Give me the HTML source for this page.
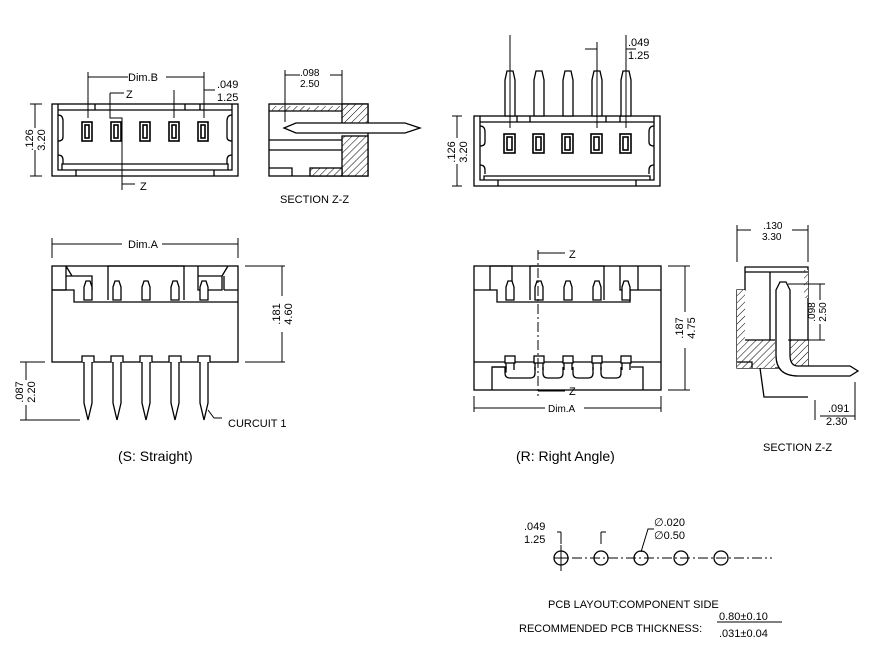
<!DOCTYPE html>
<html><head><meta charset="utf-8"><style>
html,body{margin:0;padding:0;background:#fff}
svg{display:block}
text{font-family:"Liberation Sans",Arial,sans-serif;fill:#000}
</style></head><body>
<svg width="872" height="658" viewBox="0 0 872 658" xmlns="http://www.w3.org/2000/svg">
<defs>
<pattern id="h" width="5" height="5" patternUnits="userSpaceOnUse" patternTransform="rotate(45)">
<rect width="5" height="5" fill="#fff"/><line x1="0" y1="0" x2="0" y2="5" stroke="#000" stroke-width="1"/></pattern>
</defs>
<g fill="none" stroke="#000" stroke-width="1.3">
<!-- TOP LEFT VIEW -->
<rect x="52" y="104" width="186" height="72"/>
<path d="M58 104V170H232V104M58 110H232M62 170V164H228V170M76 176V170M214 176V170M95 104V110M185 104V110M200 104V110"/>
<path d="M58 115q5 0 5 6v16q0 4 -5 4M232 115q-5 0 -5 6v16q0 4 5 4M58 155q5 0 5 5v4M232 155q-5 0 -5 5v4"/>
<g stroke-width="1.6">
<rect x="82" y="122" width="10" height="19"/><rect x="85" y="125" width="4" height="13"/>
<rect x="111" y="122" width="10" height="19"/><rect x="114" y="125" width="4" height="13"/>
<rect x="140" y="122" width="10" height="19"/><rect x="143" y="125" width="4" height="13"/>
<rect x="169" y="122" width="10" height="19"/><rect x="172" y="125" width="4" height="13"/>
<rect x="198" y="122" width="10" height="19"/><rect x="201" y="125" width="4" height="13"/>
</g>
<path stroke-width="1" d="M88 72V118M204 72V118M88 77H128M166 77H204M174 90V118M204 90H215M110 93V118H122V190M110 93H124M122 184H135"/>
<path stroke-width="1" d="M30 104H42M30 176H42M35 104V128M35 150V176"/>
<!-- SECTION top -->
<rect x="269" y="104" width="99" height="72" fill="none"/>
<rect x="272" y="106" width="38" height="5" fill="url(#h)" stroke="none"/>
<rect x="314" y="106" width="30" height="5" fill="url(#h)" stroke="none"/>
<rect x="342" y="104" width="26" height="25" fill="url(#h)"/>
<rect x="342" y="136" width="26" height="40" fill="url(#h)"/>
<rect x="310" y="168" width="32" height="8" fill="url(#h)"/>
<path d="M269 111H342M269 140H342M269 150H342M269 168H292V176"/>
<path fill="#fff" d="M284 128L296 123H405L420 128L405 133H296Z"/>
<path stroke-width="1" d="M285 70V122M342 70V104M285 75H300M330 75H342"/>
<!-- TOP RIGHT VIEW -->
<rect x="474" y="116" width="186" height="70"/>
<path d="M480 116V180H654V116M480 122H654M484 180V176H650V180M498 186V180M636 186V180M517 116V122M530 116V122M606 116V122M620 116V122"/>
<path d="M480 126q5 0 5 6v10q0 4 -5 4M654 126q-5 0 -5 6v10q0 4 5 4M480 165q5 0 5 5v4M654 165q-5 0 -5 5v4"/>
<g stroke-width="1.6">
<rect x="504" y="134" width="11" height="19"/><rect x="507" y="137" width="5" height="13"/>
<rect x="533" y="134" width="11" height="19"/><rect x="536" y="137" width="5" height="13"/>
<rect x="562" y="134" width="11" height="19"/><rect x="565" y="137" width="5" height="13"/>
<rect x="591" y="134" width="11" height="19"/><rect x="594" y="137" width="5" height="13"/>
<rect x="620" y="134" width="11" height="19"/><rect x="623" y="137" width="5" height="13"/>
</g>
<g fill="#fff">
<path d="M505 116V80L507 71H513L515 80V116Z"/><path d="M534 116V80L536 71H542L544 80V116Z"/>
<path d="M563 116V80L565 71H571L573 80V116Z"/><path d="M592 116V80L594 71H600L602 80V116Z"/>
<path d="M621 116V80L623 71H629L631 80V116Z"/>
</g>
<path stroke-width="1" d="M510 35V128M597 42V128M626 35V128M585 49H597M626 49H636"/>
<path stroke-width="1" d="M452 116H462M452 186H462M457 116V138M457 164V186"/>
<!-- STRAIGHT VIEW -->
<rect x="52" y="266" width="186" height="96"/>
<path d="M52 290H74V302H238M66 266V276H92V290M108 266V300M108 266H184V300M198 266V290H222V276M198 266V276H222M72 276L66 266M222 276L228 266"/>
<path d="M66 276V290M224 276V290M52 290H66M224 290H238"/>
<g fill="#fff">
<path d="M84 300V287L86 281H90L92 287V300Z"/><path d="M113 300V287L115 281H119L121 287V300Z"/>
<path d="M142 300V287L144 281H148L150 287V300Z"/><path d="M171 300V287L173 281H177L179 287V300Z"/>
<path d="M200 300V287L202 281H206L208 287V300Z"/>
<path d="M82 362V356H94V362M84 362V403L88 420L92 403V362"/>
<path d="M111 362V356H123V362M113 362V403L117 420L121 403V362"/>
<path d="M140 362V356H152V362M142 362V403L146 420L150 403V362"/>
<path d="M169 362V356H181V362M171 362V403L175 420L179 403V362"/>
<path d="M198 362V356H210V362M200 362V403L204 420L208 403V362"/>
</g>
<path stroke-width="1" d="M52 238V258M238 238V258M52 244H122M162 244H238M245 266H285M245 362H285M282 266V296M282 332V362M20 362H45M20 420H80M26 362V380M26 405V420M208 410L214 418H222"/>
<!-- RIGHT ANGLE VIEW -->
<rect x="474" y="266" width="187" height="124"/>
<path d="M490 266V290H497V302H630V290H638V266M490 266H512V290M530 266V300M530 266H604V300M620 266V290H638M474 290H490M638 290H661M474 362H661"/>
<g fill="#fff">
<path d="M506 300V287L508 281H512L514 287V300Z"/><path d="M535 300V287L537 281H541L543 287V300Z"/>
<path d="M564 300V287L566 281H570L572 287V300Z"/><path d="M593 300V287L595 281H599L601 287V300Z"/>
<path d="M622 300V287L624 281H628L630 287V300Z"/>
</g>
<path d="M492 390V367H506V372H505"/>
<path d="M492 367H505V373Q505 378 510 378H530Q535 378 535 373V367M543 367V373Q543 378 548 378H558Q563 378 563 373V367M573 367V373Q573 378 578 378H588Q593 378 593 373V367M601 367V373Q601 378 606 378H616Q621 378 621 373V367M631 367H643V390"/>
<path d="M505 378Q505 378 505 378"/>
<g fill="#fff">
<rect x="505" y="356" width="10" height="7"/><rect x="534" y="356" width="10" height="7"/><rect x="563" y="356" width="10" height="7"/><rect x="592" y="356" width="10" height="7"/><rect x="621" y="356" width="10" height="7"/>
</g>
<path d="M506 363V370M514 363V370M535 363V370M543 363V370M564 363V370M572 363V370M593 363V370M601 363V370M622 363V370M630 363V370"/>
<path stroke-width="1" stroke-dasharray="10,3,2,3" d="M538 250V396"/>
<path stroke-width="1" d="M538 253H565M538 391H565M474 396V412M661 396V412M474 408H545M584 408H661M668 266H690M668 390H690M685 266V312M685 348V390"/>
<!-- SECTION right -->
<path d="M745 267H808V368H737V290H745Z"/>
<rect x="737" y="290" width="8" height="78" fill="url(#h)" stroke="none"/>
<path fill="url(#h)" stroke="none" d="M745 340H775V368H745Z"/>
<path fill="url(#h)" stroke="none" d="M790 340H808V368H792Q786 368 786 360V345Z"/>
<rect x="804" y="270" width="4" height="28" fill="url(#h)" stroke="none"/>
<path d="M745 272H770V340M745 340H775M770 272H808M790 340H808M737 362H752V368"/>
<path d="M760 368L764 397H808"/>
<path fill="#fff" d="M776 340V290L780 282H786L790 290V355Q790 366 798 366H850L858 371L850 376H798Q776 376 776 355Z"/>
<path stroke-width="1" d="M737 225V262M808 225V262M737 230H751M792 230H808M788 284H825M788 340H825M820 284V300M820 324V340M855 382V420M815 400V420M820 416H855"/>
<!-- PCB -->
<path stroke-width="1" stroke-dasharray="10,3,2,3" d="M554 558H772"/>
<circle cx="561" cy="558" r="7"/><circle cx="601" cy="558" r="7"/><circle cx="641" cy="558" r="7"/><circle cx="681" cy="558" r="7"/><circle cx="721" cy="558" r="7"/>
<path stroke-width="1" d="M561 545V571M554 558H568M561 532V544M557 532H561M601 532V544M601 532H606M641 552L648 529H654M717 622H782"/>
</g>
<g font-size="11">
<text x="128" y="81">Dim.B</text>
<text x="217" y="88">.049</text><text x="217" y="101">1.25</text>
<text x="126" y="98">Z</text><text x="140" y="190">Z</text>
<text transform="translate(33,140) rotate(-90)" text-anchor="middle">.126</text>
<text transform="translate(45,140) rotate(-90)" text-anchor="middle">3.20</text>
<text x="300" y="76" font-size="10">.098</text><text x="300" y="87" font-size="10">2.50</text>
<text x="280" y="203">SECTION Z-Z</text>
<text x="628" y="46">.049</text><text x="628" y="59">1.25</text>
<text transform="translate(455,152) rotate(-90)" text-anchor="middle">.126</text>
<text transform="translate(467,152) rotate(-90)" text-anchor="middle">3.20</text>
<text x="128" y="248">Dim.A</text>
<text transform="translate(280,314) rotate(-90)" text-anchor="middle">.181</text>
<text transform="translate(292,314) rotate(-90)" text-anchor="middle">4.60</text>
<text transform="translate(23,392) rotate(-90)" text-anchor="middle">.087</text>
<text transform="translate(35,392) rotate(-90)" text-anchor="middle">2.20</text>
<text x="228" y="427">CURCUIT 1</text>
<text x="118" y="461" font-size="14">(S: Straight)</text>
<text x="569" y="258">Z</text><text x="569" y="395">Z</text>
<text x="548" y="412" font-size="10">Dim.A</text>
<text transform="translate(683,328) rotate(-90)" text-anchor="middle">.187</text>
<text transform="translate(695,328) rotate(-90)" text-anchor="middle">4.75</text>
<text x="516" y="461" font-size="14">(R: Right Angle)</text>
<text x="763" y="229" font-size="10">.130</text><text x="762" y="240" font-size="10">3.30</text>
<text transform="translate(815,312) rotate(-90)" text-anchor="middle" font-size="10">.098</text>
<text transform="translate(826,312) rotate(-90)" text-anchor="middle" font-size="10">2.50</text>
<text x="828" y="412">.091</text><text x="826" y="425">2.30</text>
<text x="763" y="451">SECTION Z-Z</text>
<text x="524" y="530">.049</text><text x="524" y="543">1.25</text>
<text x="654" y="526">∅.020</text><text x="654" y="539">∅0.50</text>
<text x="548" y="608">PCB LAYOUT:COMPONENT SIDE</text>
<text x="519" y="632">RECOMMENDED PCB THICKNESS:</text>
<text x="719" y="620">0.80±0.10</text><text x="719" y="637">.031±0.04</text>
</g>
</svg>
</body></html>
